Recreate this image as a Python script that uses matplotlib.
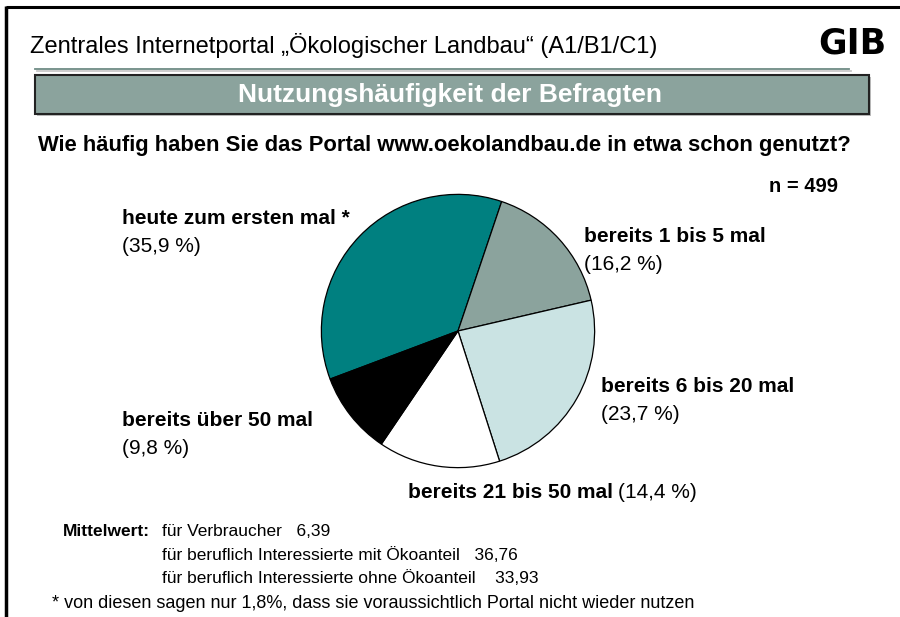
import matplotlib
matplotlib.use('Agg')
import matplotlib.pyplot as plt
from matplotlib.patches import Rectangle

plt.rcParams['font.family'] = ['Liberation Sans', 'DejaVu Sans']

# data
categories = ['heute zum ersten mal *', 'bereits 1 bis 5 mal', 'bereits 6 bis 20 mal',
              'bereits 21 bis 50 mal', 'bereits über 50 mal']
shares = [35.9, 16.2, 23.7, 14.4, 9.8]
slice_colors = ['#008080', '#8BA39D', '#CAE3E3', '#FFFFFF', '#000000']
n_total = 499
mean_groups = ['für Verbraucher', 'für beruflich Interessierte mit Ökoanteil',
               'für beruflich Interessierte ohne Ökoanteil']
mean_values = ['6,39', '36,76', '33,93']

W, H = 900, 617
fig = plt.figure(figsize=(W / 100, H / 100), dpi=100)

# overlay in pixel coordinates
ov = fig.add_axes([0, 0, 1, 1])
ov.set_xlim(0, W)
ov.set_ylim(H, 0)
ov.axis('off')

# frame (top + left)
ov.plot([6, W], [7, 7], color='black', lw=2.2, solid_capstyle='butt')
ov.plot([6, 6], [6, H], color='black', lw=2.5, solid_capstyle='butt')

ov.text(30, 46, 'Zentrales Internetportal \u201eÖkologischer Landbau\u201c (A1/B1/C1)',
        fontsize=17, va='center', ha='left')
ov.text(886, 44, 'GIB', fontsize=25, fontweight='heavy', family='DejaVu Sans',
        va='center', ha='right')

# double line under the title
ov.plot([35, 849], [68.5, 68.5], color='#6E8B85', lw=1.3)
ov.plot([37, 851], [71, 71], color='#C8C8C8', lw=1.3)

# header bar
ov.add_patch(Rectangle((37, 77), 834, 39, facecolor='#BDBDBD', edgecolor='none'))
ov.add_patch(Rectangle((35, 75), 834, 39, facecolor='#8BA39D', edgecolor='#222222', lw=1.5))
ov.text(450, 95, 'Nutzungshäufigkeit der Befragten', color='white', fontsize=19,
        fontweight='bold', ha='center', va='center')

ov.text(444, 146, 'Wie häufig haben Sie das Portal www.oekolandbau.de in etwa schon genutzt?',
        fontsize=15.8, fontweight='bold', ha='center', va='center')
ov.text(838, 187, f'n = {n_total}', fontsize=14.5, fontweight='bold', ha='right', va='center')

# pie
cx, cy, r = 458, 331, 138
pax = fig.add_axes([(cx - r) / W, 1 - (cy + r) / H, 2 * r / W, 2 * r / H])
pax.pie(shares, colors=slice_colors, startangle=200.6, counterclock=False, radius=1,
        wedgeprops=dict(edgecolor='black', linewidth=0.9))
pax.set_xlim(-1.01, 1.01)
pax.set_ylim(-1.01, 1.01)
pax.set_aspect('auto')
pax.axis('off')

def pct(v):
    return '(' + f'{v:.1f}'.replace('.', ',') + ' %)'

fs = 15
label_pos = [(122, 219), (584, 236), (601, 386), None, (122, 420)]
for name, v, pos in zip(categories, shares, label_pos):
    if pos is None:
        continue
    ov.text(pos[0], pos[1], name, fontsize=fs, fontweight='bold', va='center')
    ov.text(pos[0], pos[1] + 28, pct(v), fontsize=fs, va='center')

t = ov.text(408, 493, categories[3], fontsize=fs, fontweight='bold', va='center')
fig.canvas.draw()
bb = t.get_window_extent()
ov.text(408 + bb.width + 5, 493, pct(shares[3]), fontsize=fs, va='center')

# means
sfs = 12.5
ov.text(63, 532, 'Mittelwert:', fontsize=sfs, fontweight='bold', va='center')
gaps = ['   ', '   ', '    ']
for i, (g, m) in enumerate(zip(mean_groups, mean_values)):
    ov.text(162, 532 + 23 * i, g + gaps[i] + m, fontsize=sfs, va='center')

ov.text(52, 603, '* von diesen sagen nur 1,8%, dass sie voraussichtlich Portal nicht wieder nutzen',
        fontsize=13, va='center')

fig.savefig('out.png', dpi=100, facecolor='white')
